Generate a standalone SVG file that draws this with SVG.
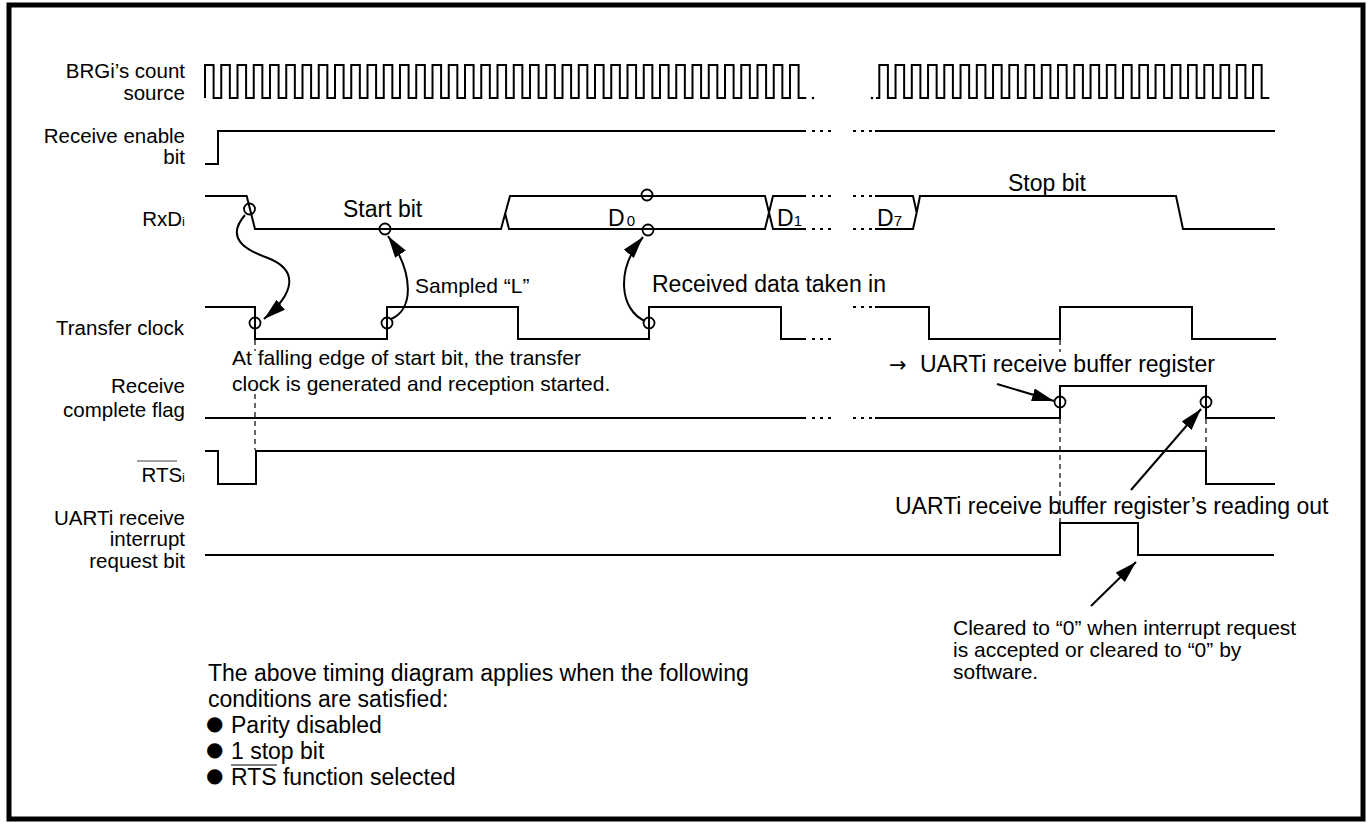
<svg xmlns="http://www.w3.org/2000/svg" width="1369" height="834" viewBox="0 0 1369 834">
<defs>
<marker id="ah" markerUnits="userSpaceOnUse" markerWidth="24" markerHeight="14" refX="22" refY="6.5" orient="auto">
<path d="M0,0 L22,6.5 L0,13 z" fill="#000"/>
</marker>
<style>
.w{fill:none;stroke:#000;stroke-width:2}
.d{fill:none;stroke:#000;stroke-width:2;stroke-dasharray:3 5}
.g{fill:none;stroke:#000;stroke-width:1.2;stroke-dasharray:5 4}
.c{fill:none;stroke:#000;stroke-width:1.8}
.a{fill:none;stroke:#000;stroke-width:2;marker-end:url(#ah)}
text{font-family:"Liberation Sans",Arial,Helvetica,sans-serif;fill:#000}
.lb{font-size:20.5px;text-anchor:end}
.t23{font-size:23px}
.t21{font-size:21px}
.bl{font-family:"DejaVu Sans",sans-serif;font-size:20px}
</style>
</defs>
<rect x="0" y="0" width="1369" height="834" fill="#fff"/>
<rect id="frame" x="9" y="5" width="1354" height="814" fill="none" stroke="#000" stroke-width="5"/>

<g id="labels">
<text class="lb" x="185" y="78">BRGi’s count</text>
<text class="lb" x="185" y="100">source</text>
<text class="lb" x="185" y="143">Receive enable</text>
<text class="lb" x="185" y="164">bit</text>
<text class="lb" x="185" y="226">RxD<tspan font-size="13">i</tspan></text>
<text class="lb" x="184" y="335">Transfer clock</text>
<text class="lb" x="185" y="393">Receive</text>
<text class="lb" x="185" y="417">complete flag</text>
<text class="lb" x="185" y="482">RTS<tspan font-size="13">i</tspan></text>
<line x1="137" y1="461" x2="177" y2="461" stroke="#444" stroke-width="1"/>
<text class="lb" x="185" y="525">UARTi receive</text>
<text class="lb" x="185" y="546">interrupt</text>
<text class="lb" x="185" y="568">request bit</text>
</g>

<g id="sig-brg">
<path class="w" d="M205,98
v-33h8.6v33h7.65v-33h8.6v33h7.65v-33h8.6v33h7.65v-33h8.6v33h7.65v-33h8.6v33h7.65v-33h8.6v33h7.65v-33h8.6v33h7.65v-33h8.6v33h7.65v-33h8.6v33h7.65v-33h8.6v33h7.65
v-33h8.6v33h7.65v-33h8.6v33h7.65v-33h8.6v33h7.65v-33h8.6v33h7.65v-33h8.6v33h7.65v-33h8.6v33h7.65v-33h8.6v33h7.65v-33h8.6v33h7.65v-33h8.6v33h7.65v-33h8.6v33h7.65
v-33h8.6v33h7.65v-33h8.6v33h7.65v-33h8.6v33h7.65v-33h8.6v33h7.65v-33h8.6v33h7.65v-33h8.6v33h7.65v-33h8.6v33h7.65v-33h8.6v33h7.65v-33h8.6v33h7.65v-33h8.6v33h7.65
v-33h8.6v33h7.65v-33h8.6v33h7.65v-33h8.6v33h7.65v-33h8.6v33h7.65v-33h8.6v33h7.65v-33h8.6v33h7.65v-33h8.6v33h7.65"/>
<circle cx="813" cy="98" r="1.3" fill="#000"/>
<circle cx="872" cy="98" r="1.3" fill="#000"/>
<path class="w" d="M876,98h3.3
v-33h8.6v33h7.65v-33h8.6v33h7.65v-33h8.6v33h7.65v-33h8.6v33h7.65v-33h8.6v33h7.65v-33h8.6v33h7.65v-33h8.6v33h7.65v-33h8.6v33h7.65v-33h8.6v33h7.65v-33h8.6v33h7.65
v-33h8.6v33h7.65v-33h8.6v33h7.65v-33h8.6v33h7.65v-33h8.6v33h7.65v-33h8.6v33h7.65v-33h8.6v33h7.65v-33h8.6v33h7.65v-33h8.6v33h7.65v-33h8.6v33h7.65v-33h8.6v33h7.65
v-33h8.6v33h7.65v-33h8.6v33h7.65v-33h8.6v33h7.65v-33h8.6v33h7.65"/>
</g>

<g id="sig-enable">
<path class="w" d="M205,164H218V131H806"/>
<path class="d" d="M812,131h19M853,131h19"/>
<path class="w" d="M875,131H1275"/>
</g>

<g id="sig-rxd">
<path class="w" d="M205,196H246.7L255,229H501L510,196H765L769,212.5L773,196H806"/>
<path class="w" d="M505,213L509,229H765L769,212.5L773,229H806"/>
<path class="d" d="M812,196h19M812,229h19M853,196h19M853,229h19"/>
<path class="w" d="M875,196H913L916.7,212.5L920,196H1176L1183,229H1275"/>
<path class="w" d="M875,229H913L916.7,212.5"/>
<circle class="c" cx="249.5" cy="209" r="5.5"/>
<circle class="c" cx="385" cy="229" r="5.5"/>
<circle class="c" cx="647" cy="195" r="5.5"/>
<circle class="c" cx="648" cy="230" r="5.5"/>
<text class="t23" x="343" y="217">Start bit</text>
<text class="t23" x="608" y="226">D<tspan font-size="15" dx="2">0</tspan></text>
<text class="t23" x="777" y="226">D<tspan font-size="15">1</tspan></text>
<text class="t23" x="877" y="226">D<tspan font-size="15">7</tspan></text>
<text class="t23" x="1008" y="191">Stop bit</text>
</g>

<g id="sig-tclk">
<path class="w" d="M205,307H255V339H387V307H518V339H649V307H781V339H806"/>
<path class="d" d="M812,339h19M853,307h19"/>
<path class="w" d="M875,307H929V339H1060V307H1192V339H1276"/>
<circle class="c" cx="255" cy="323" r="5.5"/>
<circle class="c" cx="387" cy="323" r="5.5"/>
<circle class="c" cx="649" cy="323" r="5.5"/>
</g>

<g id="sig-flag">
<path class="w" d="M205,418H806"/>
<path class="d" d="M812,418h19M853,418h19"/>
<path class="w" d="M875,418H1060V386H1206V418H1275"/>
<circle class="c" cx="1060" cy="402" r="5.5"/>
<circle class="c" cx="1206" cy="402" r="5.5"/>
</g>

<g id="sig-rts">
<path class="w" d="M205,451H218V484H256V451H1206V484H1275"/>
</g>

<g id="sig-irq">
<path class="w" d="M205,555H1060V523H1138V555H1274"/>
</g>

<g id="guides">
<path class="g" d="M255,340V351M255,394V450"/>
<path class="g" d="M1060,340V352M1060,419V522"/>
<path class="g" d="M1206,419V451"/>
</g>

<g id="connectors">
<path class="a" d="M245,215C225,238 245,250 268,258C298,270 296,292 264,319"/>
<path class="a" d="M391,319C413,310 415,275 388,236"/>
<path class="a" d="M645,321C620,310 615,270 643,237"/>
<path class="a" d="M997,384L1054,401"/>
<path class="a" d="M1131,490L1201,409"/>
<path class="a" d="M1091,606L1136,562"/>
</g>

<g id="notes">
<text class="t21" x="415" y="293">Sampled “L”</text>
<text class="t23" x="652" y="292">Received data taken in</text>
<text class="t21" x="232" y="365">At falling edge of start bit, the transfer</text>
<text class="t21" x="232" y="391">clock is generated and reception started.</text>
<text class="t23" x="889" y="372"><tspan font-family="DejaVu Sans, sans-serif" font-size="21">→</tspan><tspan x="920">UARTi receive buffer register</tspan></text>
<text class="t23" x="895" y="514">UARTi receive buffer register’s reading out</text>
<text class="t21" x="953" y="635">Cleared to “0” when interrupt request</text>
<text class="t21" x="953" y="657">is accepted or cleared to “0” by</text>
<text class="t21" x="953" y="679">software.</text>
<text class="t23" x="208" y="681">The above timing diagram applies when the following</text>
<text class="t23" x="208" y="707">conditions are satisfied:</text>
<text class="t23" x="206" y="733"><tspan class="bl" dy="-3">●</tspan><tspan x="231" dy="3">Parity disabled</tspan></text>
<text class="t23" x="206" y="759"><tspan class="bl" dy="-3">●</tspan><tspan x="231" dy="3">1 stop bit</tspan></text>
<text class="t23" x="206" y="785"><tspan class="bl" dy="-3">●</tspan><tspan x="231" dy="3">RTS function selected</tspan></text>
<line x1="231" y1="765" x2="277" y2="765" stroke="#000" stroke-width="1.2"/>
</g>
</svg>
